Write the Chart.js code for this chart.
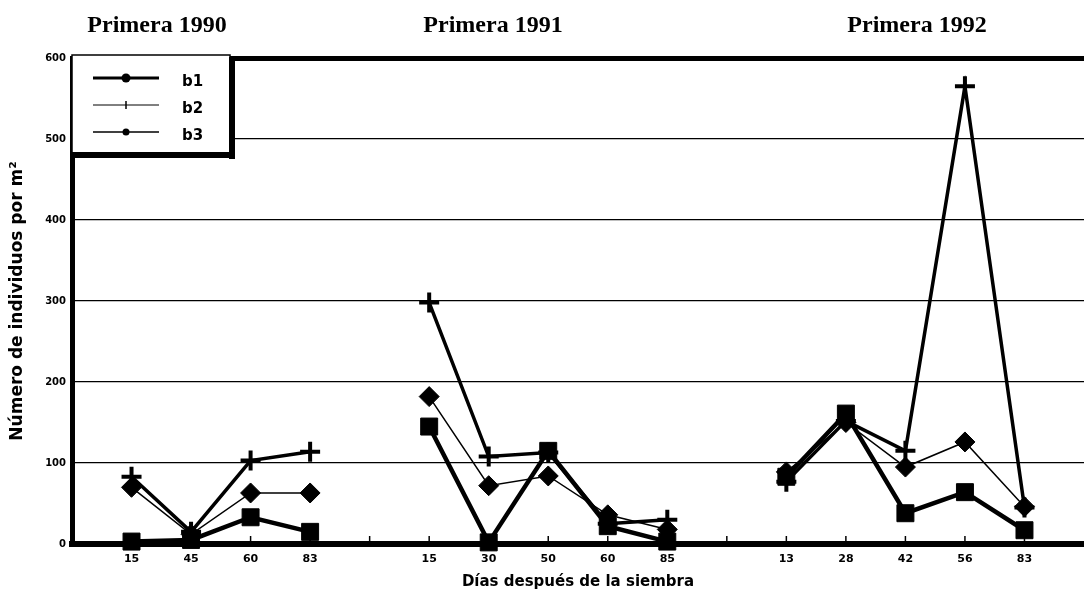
<!DOCTYPE html>
<html>
<head>
<meta charset="utf-8">
<script src="https://cdn.jsdelivr.net/npm/chart.js@4"></script>
<style>
  html, body { margin: 0; padding: 0; background: #fff; overflow: hidden; }
  canvas { display: block; }
</style>
</head>
<body>
<canvas id="c" width="1084" height="591"></canvas>
<script>
// Days after sowing, three seasons separated by empty slots
const dayLabels = ['', '15', '45', '60', '83', '', '15', '30', '50', '60', '85', '', '13', '28', '42', '56', '83', ''];
const seasons = ['Primera 1990', 'Primera 1991', 'Primera 1992'];
const seriesNames = ['b1', 'b2', 'b3'];

// Individuals per m² (null = gap between seasons)
const b1 = [null, 3, 5, 33, 15, null, 145, 2, 115, 22, 3, null, 83, 161, 38, 64, 17, null];
const b2 = [null, 83, 15, 103, 114, null, 298, 108, 113, 25, 30, null, 77, 152, 115, 565, 45, null];
const b3 = [null, 70, 12, 63, 63, null, 182, 72, 84, 36, 18, null, 89, 150, 95, 126, 46, null];

const yTicks = [0, 100, 200, 300, 400, 500, 600];

const AXIS_FONT = '"DejaVu Sans", sans-serif';

// Season headings above the plot
const seasonTitles = {
  id: 'seasonTitles',
  afterDraw(chart, args, opts) {
    const ctx = chart.ctx;
    ctx.save();
    ctx.fillStyle = '#000';
    ctx.font = 'bold 24px "Liberation Serif", serif';
    ctx.textAlign = 'center';
    ctx.textBaseline = 'alphabetic';
    seasons.forEach((t, i) => ctx.fillText(t, opts.x[i], opts.y));
    ctx.restore();
  }
};

// Short upward tick marks on the day axis
const innerTicks = {
  id: 'innerTicks',
  beforeDatasetsDraw(chart) {
    const ctx = chart.ctx, xs = chart.scales.x, area = chart.chartArea;
    ctx.save();
    ctx.strokeStyle = '#000';
    ctx.lineWidth = 1.5;
    for (let i = 1; i < dayLabels.length - 1; i++) {
      const px = xs.getPixelForValue(i);
      ctx.beginPath();
      ctx.moveTo(px, area.bottom);
      ctx.lineTo(px, area.bottom - 8);
      ctx.stroke();
    }
    ctx.restore();
  }
};

// Boxed legend in the upper-left corner
const boxLegend = {
  id: 'boxLegend',
  afterDraw(chart, args, opts) {
    const ctx = chart.ctx;
    const { left, top, width, height } = opts.box;
    ctx.save();
    ctx.fillStyle = '#fff';
    ctx.fillRect(left, top, width, height);
    ctx.strokeStyle = '#000';
    ctx.lineWidth = 1.5;
    ctx.strokeRect(left, top, width, height);
    ctx.fillStyle = '#000';
    ctx.fillRect(left + width - 1, top + 2, 6, height + 4);
    ctx.fillRect(left, top + height - 1, width + 5, 6);

    chart.data.datasets.forEach((ds, i) => {
      const st = opts.styles[i];
      const y = top + opts.firstRow + i * opts.rowGap;
      ctx.strokeStyle = '#000';
      ctx.lineWidth = st.line;
      ctx.beginPath();
      ctx.moveTo(left + opts.lineFrom, y);
      ctx.lineTo(left + opts.lineTo, y);
      ctx.stroke();
      const mx = left + (opts.lineFrom + opts.lineTo) / 2;
      if (st.marker === 'cross') {
        ctx.lineWidth = 1.5;
        ctx.beginPath();
        ctx.moveTo(mx, y - st.size); ctx.lineTo(mx, y + st.size);
        ctx.stroke();
      } else {
        ctx.beginPath();
        ctx.arc(mx, y, st.size, 0, Math.PI * 2);
        ctx.fill();
      }
      ctx.font = 'bold 15px ' + AXIS_FONT;
      ctx.textAlign = 'left';
      ctx.textBaseline = 'middle';
      ctx.fillText(ds.label, left + opts.textX, y + 4);
    });
    ctx.restore();
  }
};

const common = {
  borderColor: '#000',
  pointBackgroundColor: '#000',
  pointBorderColor: '#000',
  tension: 0,
  spanGaps: false,
  clip: false
};

new Chart(document.getElementById('c'), {
  type: 'line',
  data: {
    labels: dayLabels,
    datasets: [
      Object.assign({ label: seriesNames[0], data: b1, borderWidth: 4.5, pointStyle: 'rect', pointRadius: 12, pointBorderWidth: 1 }, common),
      Object.assign({ label: seriesNames[1], data: b2, borderWidth: 3.5, pointStyle: 'cross', pointRadius: 10, pointBorderWidth: 4 }, common),
      Object.assign({ label: seriesNames[2], data: b3, borderWidth: 1.5, pointStyle: 'rectRot', pointRadius: 10, pointBorderWidth: 1 }, common)
    ]
  },
  plugins: [innerTicks, boxLegend, seasonTitles],
  options: {
    responsive: false,
    animation: false,
    events: [],
    layout: { autoPadding: false, padding: { top: 58, left: 0, right: 0, bottom: 0 } },
    plugins: {
      legend: { display: false },
      tooltip: { enabled: false },
      seasonTitles: { x: [157, 493, 917], y: 32 },
      boxLegend: {
        box: { left: 72, top: 55, width: 158, height: 98 },
        firstRow: 23, rowGap: 27,
        lineFrom: 21, lineTo: 87, textX: 110,
        styles: [
          { line: 3, marker: 'dot', size: 4.5 },
          { line: 1, marker: 'cross', size: 4 },
          { line: 1.5, marker: 'dot', size: 3.5 }
        ]
      }
    },
    scales: {
      x: {
        type: 'category',
        offset: false,
        grid: { display: false, drawTicks: false },
        border: { display: true, color: '#000', width: 6 },
        ticks: {
          color: '#000', autoSkip: false, maxRotation: 0, padding: 9,
          font: { family: AXIS_FONT, size: 11, weight: 'bold' }
        },
        title: {
          display: true, text: 'Días después de la siembra', color: '#000',
          font: { family: AXIS_FONT, size: 15, weight: 'bold' },
          padding: { top: 0, bottom: 0 }
        },
        afterFit(scale) {
          scale.height = 47;
          scale.paddingLeft = 0;
          scale.paddingRight = 0;
        }
      },
      y: {
        min: 0, max: 600,
        afterBuildTicks(scale) { scale.ticks = yTicks.map(v => ({ value: v })); },
        grid: {
          color: '#000',
          drawTicks: false,
          lineWidth: c => (c.tick && c.tick.value === 600) ? 5 : (c.tick && c.tick.value === 0 ? 0 : 1.3)
        },
        border: { display: true, color: '#000', width: 5 },
        ticks: {
          color: '#000', padding: 6,
          font: { family: AXIS_FONT, size: 10, weight: 'bold' }
        },
        title: {
          display: true, text: 'Número de individuos por m²', color: '#000',
          font: { family: AXIS_FONT, size: 17, weight: 'bold' },
          padding: { top: 7, bottom: 0 }
        },
        afterFit(scale) {
          scale.width = 72;
          scale.paddingTop = 0;
          scale.paddingBottom = 0;
        }
      }
    }
  }
});
</script>
</body>
</html>
